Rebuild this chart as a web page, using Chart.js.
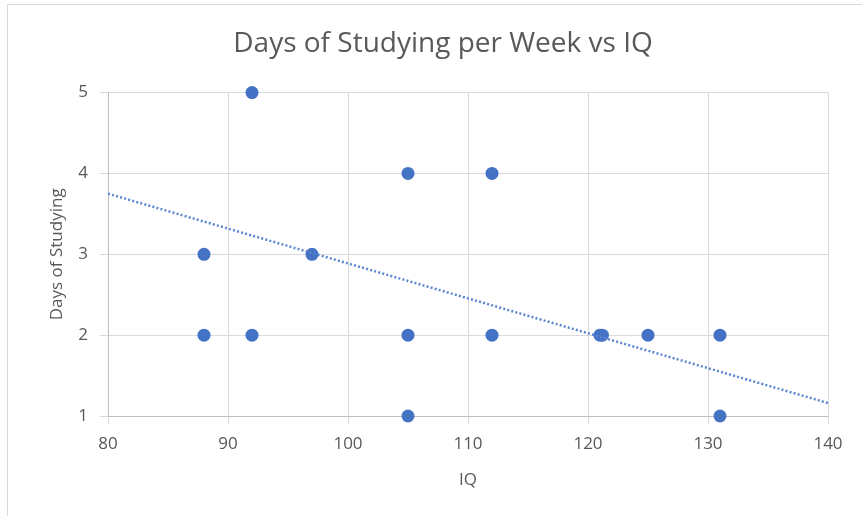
<!DOCTYPE html>
<html>
<head>
<meta charset="utf-8">
<script src="https://cdn.jsdelivr.net/npm/chart.js@4/dist/chart.umd.min.js"></script>
<style>
  html, body { margin: 0; padding: 0; background: #ffffff; }
  #wrap { width: 862px; height: 516px; }
</style>
</head>
<body>
<div id="wrap"><canvas id="c" width="862" height="516"></canvas></div>
<script>
// Observations: IQ score and days of studying per week
const iq   = [92, 105, 112, 88, 97, 88, 92, 105, 112, 121, 121.2, 125, 131, 105, 131];
const days = [5, 4, 4, 3, 3, 2, 2, 2, 2, 2, 2, 2, 2, 1, 1];

// Linear trendline end points
const trendX = [80, 140];
const trendY = [3.75, 1.16];

// Axis ranges and tick steps
const xTicks = [80, 90, 100, 110, 120, 130, 140];
const yTicks = [1, 2, 3, 4, 5];

const BLUE = '#4472C4';
const GRID = '#d9d9d9';
const AXIS = '#bfbfbf';
const TEXT = '#595959';
const FONT = "'Open Sans', 'Liberation Sans', sans-serif";

const points = iq.map((x, i) => ({ x: x, y: days[i] }));
const trend = trendX.map((x, i) => ({ x: x, y: trendY[i] }));

// white background and the thin outer frame of the chart object
const framePlugin = {
  id: 'frame',
  beforeDraw(chart) {
    const ctx = chart.ctx;
    ctx.save();
    ctx.fillStyle = '#ffffff';
    ctx.fillRect(0, 0, chart.width, chart.height);
    ctx.strokeStyle = GRID;
    ctx.lineWidth = 1;
    ctx.strokeRect(7.5, 4.5, chart.width + 20, chart.height + 20);
    ctx.restore();
  }
};

new Chart(document.getElementById('c'), {
  type: 'scatter',
  data: {
    datasets: [
      {
        label: 'Linear trend',
        data: trend,
        showLine: true,
        borderColor: '#5b86d3',
        borderWidth: 2.5,
        borderDash: [2, 2.2],
        pointRadius: 0,
        pointHoverRadius: 0,
        fill: false,
        clip: false,
        order: 0
      },
      {
        label: 'Days of Studying',
        data: points,
        backgroundColor: BLUE,
        borderWidth: 0,
        pointRadius: 6.5,
        pointHoverRadius: 6.5,
        clip: false,
        order: 1
      }
    ]
  },
  plugins: [framePlugin],
  options: {
    responsive: false,
    animation: false,
    events: [],
    layout: { padding: { left: 24, right: 0, top: 0, bottom: 0 } },
    plugins: {
      legend: { display: false },
      tooltip: { enabled: false },
      title: {
        display: true,
        text: 'Days of Studying per Week vs IQ',
        color: TEXT,
        font: { family: FONT, size: 28, weight: 'normal' },
        padding: { top: 27, bottom: 32 }
      }
    },
    scales: {
      x: {
        type: 'linear',
        min: xTicks[0],
        max: xTicks[xTicks.length - 1],
        afterFit(scale) { scale.height = 100; scale.paddingRight = 34; },
        afterBuildTicks(scale) { scale.ticks = xTicks.map(v => ({ value: v })); },
        ticks: { color: TEXT, font: { family: FONT, size: 17 }, padding: 10, maxRotation: 0 },
        grid: { color: GRID, tickColor: GRID, tickLength: 8, lineWidth: 1 },
        border: { color: AXIS, width: 1 },
        title: {
          display: true,
          text: 'IQ',
          color: TEXT,
          font: { family: FONT, size: 17 },
          padding: { top: 0, bottom: 26 }
        }
      },
      y: {
        type: 'linear',
        min: yTicks[0],
        max: yTicks[yTicks.length - 1],
        afterFit(scale) { scale.width = 84; },
        afterBuildTicks(scale) { scale.ticks = yTicks.map(v => ({ value: v })); },
        ticks: { color: TEXT, font: { family: FONT, size: 17 }, padding: 12 },
        grid: { color: GRID, tickColor: GRID, tickLength: 8, lineWidth: 1 },
        border: { color: AXIS, width: 1 },
        title: {
          display: true,
          text: 'Days of Studying',
          color: TEXT,
          font: { family: FONT, size: 17 },
          padding: { top: 23, bottom: 0 }
        }
      }
    }
  }
});
</script>
</body>
</html>
